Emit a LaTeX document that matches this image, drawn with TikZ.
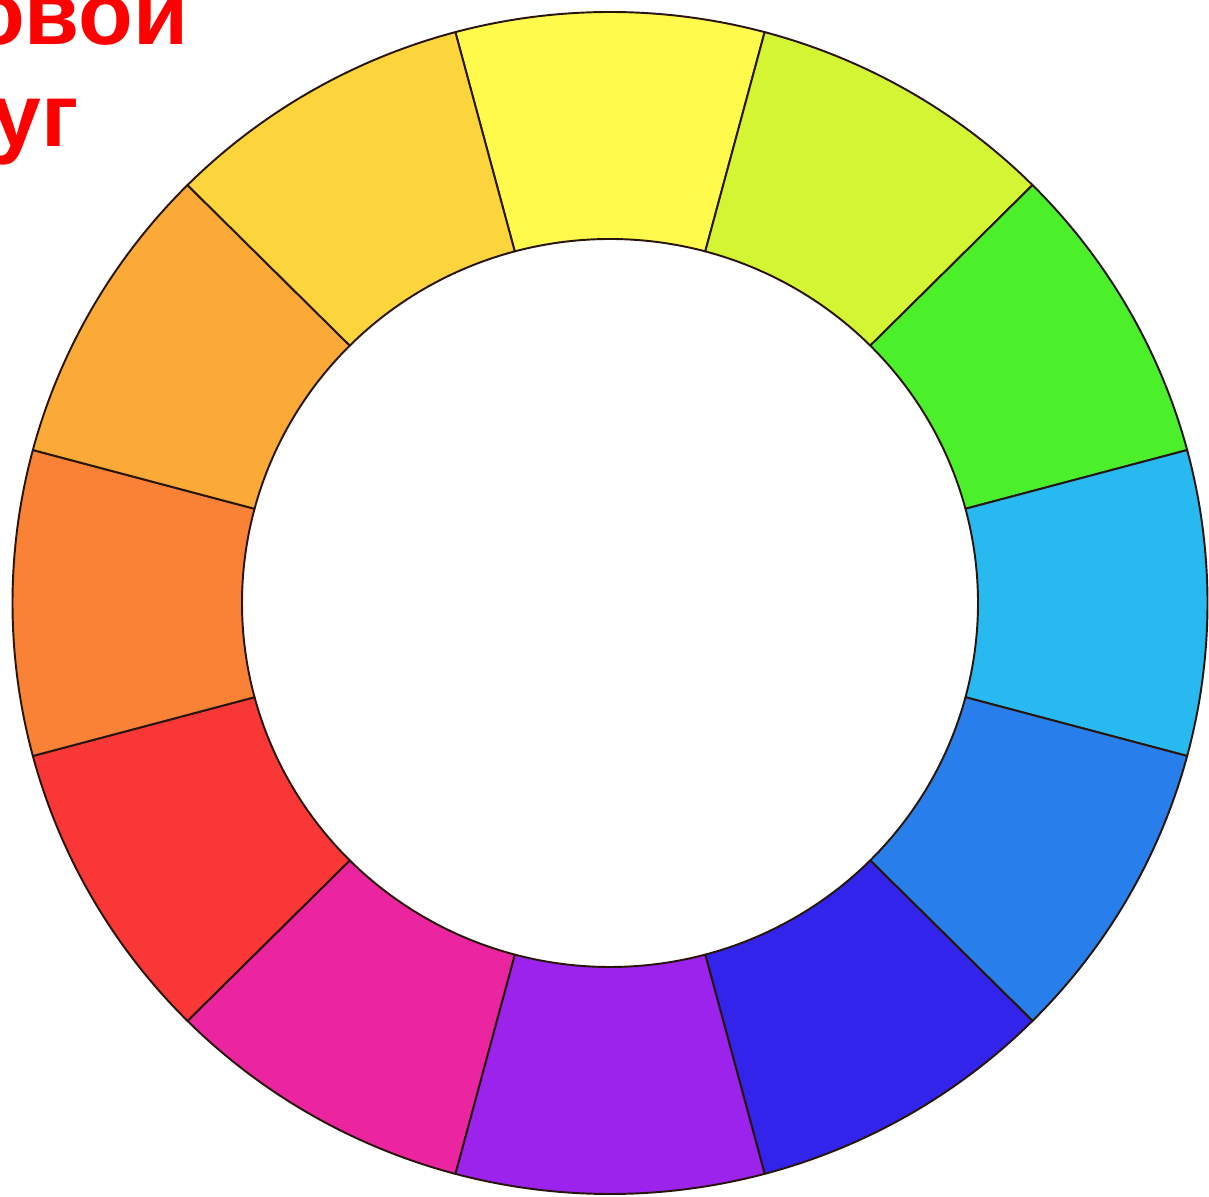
\documentclass[tikz,border=0pt]{standalone}
\usepackage{fontspec}
\setmainfont{Liberation Sans}
\definecolor{wheelYellow}{RGB}{255,250,75}
\definecolor{wheelLime}{RGB}{212,245,52}
\definecolor{wheelGreen}{RGB}{76,240,42}
\definecolor{wheelCyan}{RGB}{40,185,240}
\definecolor{wheelBlue}{RGB}{40,126,235}
\definecolor{wheelIndigo}{RGB}{50,36,235}
\definecolor{wheelViolet}{RGB}{155,35,235}
\definecolor{wheelMagenta}{RGB}{235,37,160}
\definecolor{wheelRed}{RGB}{250,55,55}
\definecolor{wheelOrange}{RGB}{250,130,55}
\definecolor{wheelAmber}{RGB}{251,170,55}
\definecolor{wheelGold}{RGB}{252,212,60}
\definecolor{wheelLine}{RGB}{40,22,12}
\begin{document}
\begin{tikzpicture}[x=0.02cm,y=0.02cm,
  seg/.style={draw=wheelLine,line width=1.1pt,line join=round},
  title/.style={red,anchor=base east,inner sep=0pt,font=\bfseries\fontsize{51}{60}\selectfont}]
\useasboundingbox (0,0) rectangle (1209,1196);
\fill[white] (0,0) rectangle (1209,1196);
\begin{scope}[shift={(610,593)},xscale=1.011]
\filldraw[seg,fill=wheelYellow] (75:591) arc[start angle=75,end angle=105,radius=591] -- (105:364) arc[start angle=105,end angle=75,radius=364] -- cycle;
\filldraw[seg,fill=wheelLime] (45:591) arc[start angle=45,end angle=75,radius=591] -- (75:364) arc[start angle=75,end angle=45,radius=364] -- cycle;
\filldraw[seg,fill=wheelGreen] (15:591) arc[start angle=15,end angle=45,radius=591] -- (45:364) arc[start angle=45,end angle=15,radius=364] -- cycle;
\filldraw[seg,fill=wheelCyan] (-15:591) arc[start angle=-15,end angle=15,radius=591] -- (15:364) arc[start angle=15,end angle=-15,radius=364] -- cycle;
\filldraw[seg,fill=wheelBlue] (-45:591) arc[start angle=-45,end angle=-15,radius=591] -- (-15:364) arc[start angle=-15,end angle=-45,radius=364] -- cycle;
\filldraw[seg,fill=wheelIndigo] (-75:591) arc[start angle=-75,end angle=-45,radius=591] -- (-45:364) arc[start angle=-45,end angle=-75,radius=364] -- cycle;
\filldraw[seg,fill=wheelViolet] (-105:591) arc[start angle=-105,end angle=-75,radius=591] -- (-75:364) arc[start angle=-75,end angle=-105,radius=364] -- cycle;
\filldraw[seg,fill=wheelMagenta] (-135:591) arc[start angle=-135,end angle=-105,radius=591] -- (-105:364) arc[start angle=-105,end angle=-135,radius=364] -- cycle;
\filldraw[seg,fill=wheelRed] (-165:591) arc[start angle=-165,end angle=-135,radius=591] -- (-135:364) arc[start angle=-135,end angle=-165,radius=364] -- cycle;
\filldraw[seg,fill=wheelOrange] (165:591) arc[start angle=165,end angle=195,radius=591] -- (195:364) arc[start angle=195,end angle=165,radius=364] -- cycle;
\filldraw[seg,fill=wheelAmber] (135:591) arc[start angle=135,end angle=165,radius=591] -- (165:364) arc[start angle=165,end angle=135,radius=364] -- cycle;
\filldraw[seg,fill=wheelGold] (105:591) arc[start angle=105,end angle=135,radius=591] -- (135:364) arc[start angle=135,end angle=105,radius=364] -- cycle;
\end{scope}
\node[title] (line1) at (189,1151) {овой};
\node[title] (line2) at (79,1049) {уг};
\end{tikzpicture}
\end{document}
